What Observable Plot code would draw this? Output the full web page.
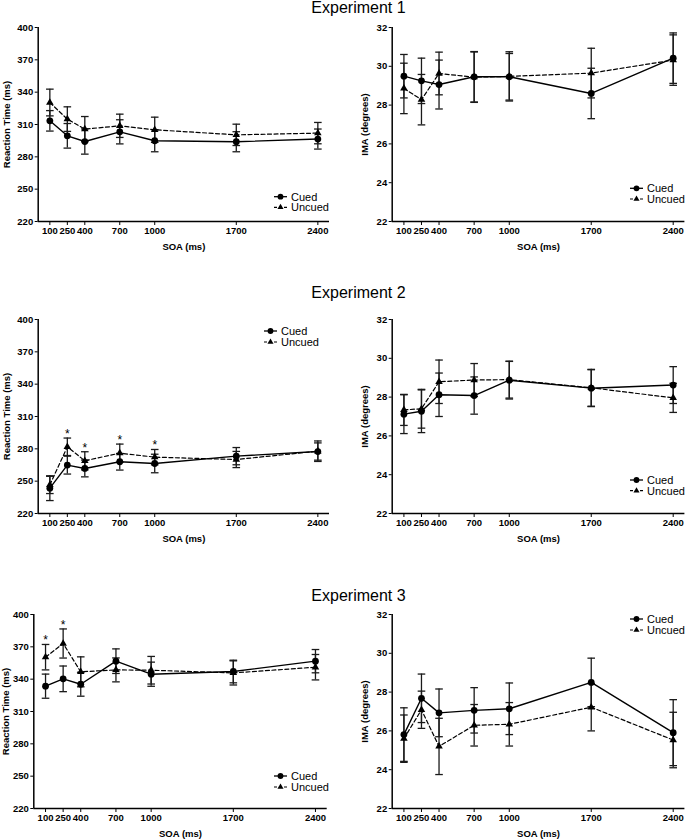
<!DOCTYPE html>
<html><head><meta charset="utf-8">
<script src="https://cdn.jsdelivr.net/npm/d3@7"></script>
<script src="https://cdn.jsdelivr.net/npm/@observablehq/plot@0.6"></script>
<style>
body{margin:0;background:#fff;}
#page{position:relative;width:685px;height:839px;overflow:hidden;font-family:"Liberation Sans",Arial,sans-serif;}
.panel{position:absolute;}
#overlay{position:absolute;left:0;top:0;pointer-events:none;}
</style></head><body><div id="page"></div>
<script>
// ---- data ----
const soa = [100, 250, 400, 700, 1000, 1700, 2400];
const soaTicks = [100, 250, 400, 700, 1000, 1700, 2400];
const xDomain = [0, 2500];
const rtTicks = [220, 250, 280, 310, 340, 370, 400];
const rtDomain = [220, 400];
const imaTicks = [22, 24, 26, 28, 30, 32];
const imaDomain = [22, 32];
const titles = ["Experiment 1", "Experiment 2", "Experiment 3"];

// Experiment 1
const e1RtCued = [313.4, 299.5, 294.2, 303.2, 294.9, 294.0, 296.5];
const e1RtCuedSE = [9.5, 11.4, 11.7, 11.2, 10.2, 9.3, 9.3];
const e1RtUncued = [330.4, 315.0, 305.7, 308.8, 305.1, 300.4, 302.0];
const e1RtUncuedSE = [12.4, 11.4, 11.7, 10.8, 11.7, 9.9, 9.9];
const e1ImaCued = [29.49, 29.25, 29.06, 29.46, 29.46, 28.6, 30.42];
const e1ImaCuedSE = [1.12, 1.17, 1.26, 1.3, 1.2, 1.3, 1.3];
const e1ImaUncued = [28.86, 28.28, 29.63, 29.44, 29.48, 29.65, 30.32];
const e1ImaUncuedSE = [1.3, 1.3, 1.1, 1.3, 1.27, 1.28, 1.3];
const e1Sig = [];

// Experiment 2
const e2RtCued = [243.5, 264.9, 261.8, 268.0, 266.4, 273.2, 277.5];
const e2RtCuedSE = [11.5, 8.3, 7.8, 7.7, 8.6, 8.0, 8.0];
const e2RtUncued = [246.5, 281.9, 268.9, 276.0, 272.3, 270.1, 277.8];
const e2RtUncuedSE = [8.0, 8.1, 8.4, 8.4, 7.1, 7.5, 9.5];
const e2ImaCued = [27.12, 27.27, 28.12, 28.08, 28.87, 28.46, 28.62];
const e2ImaCuedSE = [1.0, 1.1, 1.12, 0.96, 0.97, 0.95, 0.95];
const e2ImaUncued = [27.34, 27.4, 28.79, 28.88, 28.9, 28.48, 27.96];
const e2ImaUncuedSE = [0.8, 1.0, 1.12, 0.85, 0.95, 0.95, 0.75];
const e2Sig = [250, 400, 700, 1000];

// Experiment 3
const e3RtCued = [333.5, 340.3, 335.3, 356.7, 344.6, 347.1, 356.7];
const e3RtCuedSE = [11.2, 11.9, 11.1, 11.4, 11.2, 10.5, 10.8];
const e3RtUncued = [360.4, 373.1, 346.8, 348.6, 348.3, 345.8, 351.1];
const e3RtUncuedSE = [11.8, 13.5, 13.9, 11.1, 12.8, 11.2, 11.8];
const e3ImaCued = [25.81, 27.68, 26.93, 27.06, 27.14, 28.5, 25.91];
const e3ImaCuedSE = [1.38, 1.25, 1.23, 1.17, 1.33, 1.25, 1.7];
const e3ImaUncued = [25.6, 27.09, 25.2, 26.29, 26.34, 27.22, 25.53];
const e3ImaUncuedSE = [1.22, 0.96, 1.45, 1.07, 1.12, 1.22, 1.43];
const e3Sig = [100, 250];

// ---- drawing ----
const page = document.getElementById("page");
const capSymbol = {draw(ctx, size) { const r = Math.sqrt(size / Math.PI); ctx.moveTo(-r, 0); ctx.lineTo(r, 0); }};

function rowsOf(cond, means, ses) {
  return soa.map((s, i) => ({soa: s, cond, mean: means[i], se: ses[i]}));
}

function panel(o) {
  const cued = rowsOf("Cued", o.cued, o.cuedSE);
  const uncued = rowsOf("Uncued", o.uncued, o.uncuedSE);
  const all = cued.concat(uncued);
  const sigRows = o.sig.map(s => {
    const i = soa.indexOf(s);
    return {soa: s, top: Math.max(o.cued[i] + o.cuedSE[i], o.uncued[i] + o.uncuedSE[i])};
  });
  const plotH = 194;
  const mT = 10, mB = 40;
  const chart = Plot.plot({
    width: o.width, height: mT + plotH + mB,
    marginLeft: o.mL, marginRight: o.mR, marginTop: mT, marginBottom: mB,
    x: {domain: xDomain},
    y: {domain: o.yDomain},
    style: {fontFamily: "'Liberation Sans', Arial, sans-serif", fontSize: "9.5px", fontWeight: "bold", color: "#000", background: "transparent", overflow: "visible"},
    marks: [
      Plot.ruleX(all, {x: "soa", y1: d => d.mean - d.se, y2: d => d.mean + d.se, stroke: "#1a1a1a", strokeWidth: 1.3}),
      Plot.dot(all, {x: "soa", y: d => d.mean + d.se, symbol: capSymbol, r: 3.8, stroke: "#1a1a1a", strokeWidth: 1.3, fill: "none"}),
      Plot.dot(all, {x: "soa", y: d => d.mean - d.se, symbol: capSymbol, r: 3.8, stroke: "#1a1a1a", strokeWidth: 1.3, fill: "none"}),
      Plot.line(uncued, {x: "soa", y: "mean", stroke: "#000", strokeWidth: 1.2, strokeDasharray: "4,2.5"}),
      Plot.line(cued, {x: "soa", y: "mean", stroke: "#000", strokeWidth: 1.4}),
      Plot.dot(uncued, {x: "soa", y: "mean", symbol: "triangle", r: 2.8, fill: "#000", stroke: "none"}),
      Plot.dot(cued, {x: "soa", y: "mean", symbol: "circle", r: 3.4, fill: "#000", stroke: "none"}),
      Plot.text(sigRows, {x: "soa", y: "top", text: () => "*", dy: -4, fontSize: 12, fontWeight: "normal", lineAnchor: "middle"}),
      Plot.ruleY([o.yDomain[0]], {stroke: "#000", strokeWidth: 1.5}),
      Plot.ruleX([xDomain[0]], {stroke: "#000", strokeWidth: 1.5}),
      Plot.axisX({ticks: soaTicks, tickSize: 4, tickPadding: 2, tickFormat: d => String(d), label: "SOA (ms)", labelAnchor: "center", labelOffset: 28, labelArrow: "none"}),
      Plot.axisY({ticks: o.yTicks, tickSize: 3, tickPadding: 2, tickFormat: d => String(d), label: o.yLabel, labelAnchor: "center", labelOffset: o.yLabelOffset, labelArrow: "none"})
    ]
  });
  chart.classList.add("panel");
  chart.style.left = o.left + "px";
  chart.style.top = (o.plotTop - mT) + "px";
  page.appendChild(chart);
}

const rows = [
  {rt: [e1RtCued, e1RtCuedSE, e1RtUncued, e1RtUncuedSE], ima: [e1ImaCued, e1ImaCuedSE, e1ImaUncued, e1ImaUncuedSE], sig: e1Sig, topL: 26.7, topR: 26.7, mLL: 37.7, mRL: 11, off: 35},
  {rt: [e2RtCued, e2RtCuedSE, e2RtUncued, e2RtUncuedSE], ima: [e2ImaCued, e2ImaCuedSE, e2ImaUncued, e2ImaUncuedSE], sig: e2Sig, topL: 318.7, topR: 318.7, mLL: 37.7, mRL: 11, off: 35},
  {rt: [e3RtCued, e3RtCuedSE, e3RtUncued, e3RtUncuedSE], ima: [e3ImaCued, e3ImaCuedSE, e3ImaUncued, e3ImaUncuedSE], sig: e3Sig, topL: 614.3, topR: 613.5, mLL: 33.3, mRL: 13.3, off: 32}
];

rows.forEach(r => {
  panel({cued: r.rt[0], cuedSE: r.rt[1], uncued: r.rt[2], uncuedSE: r.rt[3], sig: r.sig,
    yDomain: rtDomain, yTicks: rtTicks, yLabel: "Reaction Time (ms)", yLabelOffset: r.off,
    left: 0, width: 340, mL: r.mLL, mR: r.mRL, plotTop: r.topL});
  panel({cued: r.ima[0], cuedSE: r.ima[1], uncued: r.ima[2], uncuedSE: r.ima[3], sig: [],
    yDomain: imaDomain, yTicks: imaTicks, yLabel: "IMA (degrees)", yLabelOffset: 31,
    left: 340, width: 345, mL: 51.7, mR: 0.6, plotTop: r.topR});
});

// ---- titles and legends (overlay) ----
const svg = d3.select(page).append("svg").attr("id", "overlay").attr("width", 685).attr("height", 839)
  .style("font-family", "'Liberation Sans', Arial, sans-serif");
const titleBaselines = [13, 298, 601];
titles.forEach((t, i) => {
  svg.append("text").attr("x", 358.5).attr("y", titleBaselines[i]).attr("text-anchor", "middle")
    .attr("font-size", 16).attr("fill", "#000").text(t);
});
const legends = [
  [291, 196.7, 207.3], [647, 188.3, 199],
  [281, 331, 342], [647, 480, 490.7],
  [291, 776, 787], [647, 619, 630]
];
legends.forEach(([x0, yc, yu]) => {
  const g = svg.append("g");
  g.append("line").attr("x1", x0 - 17).attr("x2", x0 - 4).attr("y1", yc).attr("y2", yc).attr("stroke", "#000").attr("stroke-width", 1.3);
  g.append("circle").attr("cx", x0 - 10.5).attr("cy", yc).attr("r", 2.9).attr("fill", "#000");
  g.append("text").attr("x", x0).attr("y", yc).attr("dy", "0.35em").attr("font-size", 11).text("Cued");
  g.append("line").attr("x1", x0 - 17).attr("x2", x0 - 4).attr("y1", yu).attr("y2", yu).attr("stroke", "#000").attr("stroke-width", 1.2).attr("stroke-dasharray", "3,2");
  g.append("path").attr("d", d3.symbol(d3.symbolTriangle, 16)()).attr("transform", `translate(${x0 - 10.5},${yu})`).attr("fill", "#000");
  g.append("text").attr("x", x0).attr("y", yu).attr("dy", "0.35em").attr("font-size", 11).text("Uncued");
});
</script></body></html>
